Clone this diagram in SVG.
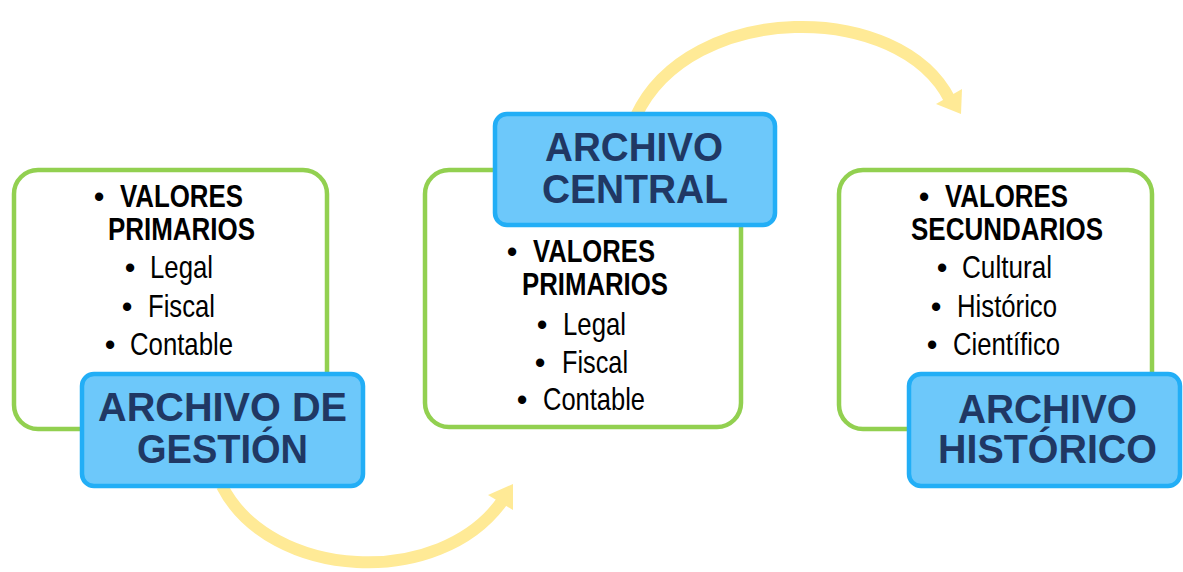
<svg xmlns="http://www.w3.org/2000/svg" width="1183" height="572" viewBox="0 0 1183 572">
<style>
.arc{fill:none;stroke:#FFEA96;stroke-width:12}
.head{fill:#FFEA96}
.green{fill:#FFFFFF;stroke:#92D050;stroke-width:4.5}
.blue{fill:#6DC8FA;stroke:#22AEF6;stroke-width:4.5}
.t{font-family:"Liberation Sans",Arial,sans-serif;font-size:30.5px;fill:#000000}
.b{font-weight:bold}
.bul{text-anchor:middle}
.h{font-family:"Liberation Sans",Arial,sans-serif;font-size:40px;font-weight:bold;fill:#203864}
</style>
<rect width="1183" height="572" fill="#FFFFFF"/>
<g id="connectors">
<path class="arc" d="M 222 486 C 270 580, 440 590, 503 500"/>
<polygon class="head" points="513,484 513,510 488,495"/>
<path class="arc" d="M 636 116 C 690 0, 900 0, 950 100"/>
<polygon class="head" points="961,114 962,89 936,104"/>
</g>
<g id="node-gestion">
<rect class="green" x="14" y="170" width="313" height="259" rx="24"/>
<text class="t bul" x="99" y="207">•</text>
<text class="t b" x="120" y="207" textLength="123" lengthAdjust="spacingAndGlyphs">VALORES</text>
<text class="t b" x="108" y="240" textLength="147" lengthAdjust="spacingAndGlyphs">PRIMARIOS</text>
<text class="t bul" x="130" y="278">•</text>
<text class="t" x="150" y="278" textLength="63" lengthAdjust="spacingAndGlyphs">Legal</text>
<text class="t bul" x="127" y="317">•</text>
<text class="t" x="148" y="317" textLength="67" lengthAdjust="spacingAndGlyphs">Fiscal</text>
<text class="t bul" x="110" y="355">•</text>
<text class="t" x="130" y="355" textLength="103" lengthAdjust="spacingAndGlyphs">Contable</text>
<rect class="blue" x="82" y="374" width="281" height="112" rx="12"/>
<text class="h" x="98" y="421" textLength="249" lengthAdjust="spacingAndGlyphs">ARCHIVO DE</text>
<text class="h" x="137" y="463" textLength="171" lengthAdjust="spacingAndGlyphs">GESTIÓN</text>
</g>
<g id="node-central">
<rect class="green" x="425" y="170" width="316" height="257" rx="24"/>
<text class="t bul" x="512" y="262">•</text>
<text class="t b" x="533" y="262" textLength="122" lengthAdjust="spacingAndGlyphs">VALORES</text>
<text class="t b" x="522" y="295" textLength="146" lengthAdjust="spacingAndGlyphs">PRIMARIOS</text>
<text class="t bul" x="542" y="335">•</text>
<text class="t" x="563" y="335" textLength="63" lengthAdjust="spacingAndGlyphs">Legal</text>
<text class="t bul" x="540" y="373">•</text>
<text class="t" x="562" y="373" textLength="66" lengthAdjust="spacingAndGlyphs">Fiscal</text>
<text class="t bul" x="522" y="410">•</text>
<text class="t" x="543" y="410" textLength="102" lengthAdjust="spacingAndGlyphs">Contable</text>
<rect class="blue" x="495" y="114" width="280" height="111" rx="12"/>
<text class="h" x="545" y="161" textLength="178" lengthAdjust="spacingAndGlyphs">ARCHIVO</text>
<text class="h" x="542" y="203" textLength="186" lengthAdjust="spacingAndGlyphs">CENTRAL</text>
</g>
<g id="node-historico">
<rect class="green" x="839" y="170" width="313" height="259" rx="24"/>
<text class="t bul" x="924" y="207">•</text>
<text class="t b" x="945" y="207" textLength="123" lengthAdjust="spacingAndGlyphs">VALORES</text>
<text class="t b" x="911" y="240" textLength="192" lengthAdjust="spacingAndGlyphs">SECUNDARIOS</text>
<text class="t bul" x="942" y="278">•</text>
<text class="t" x="962" y="278" textLength="90" lengthAdjust="spacingAndGlyphs">Cultural</text>
<text class="t bul" x="936" y="317">•</text>
<text class="t" x="957" y="317" textLength="100" lengthAdjust="spacingAndGlyphs">Histórico</text>
<text class="t bul" x="932" y="355">•</text>
<text class="t" x="953" y="355" textLength="107" lengthAdjust="spacingAndGlyphs">Científico</text>
<rect class="blue" x="909" y="374" width="271" height="112" rx="12"/>
<text class="h" x="958" y="423" textLength="179" lengthAdjust="spacingAndGlyphs">ARCHIVO</text>
<text class="h" x="938" y="463" textLength="219" lengthAdjust="spacingAndGlyphs">HISTÓRICO</text>
</g>
</svg>
